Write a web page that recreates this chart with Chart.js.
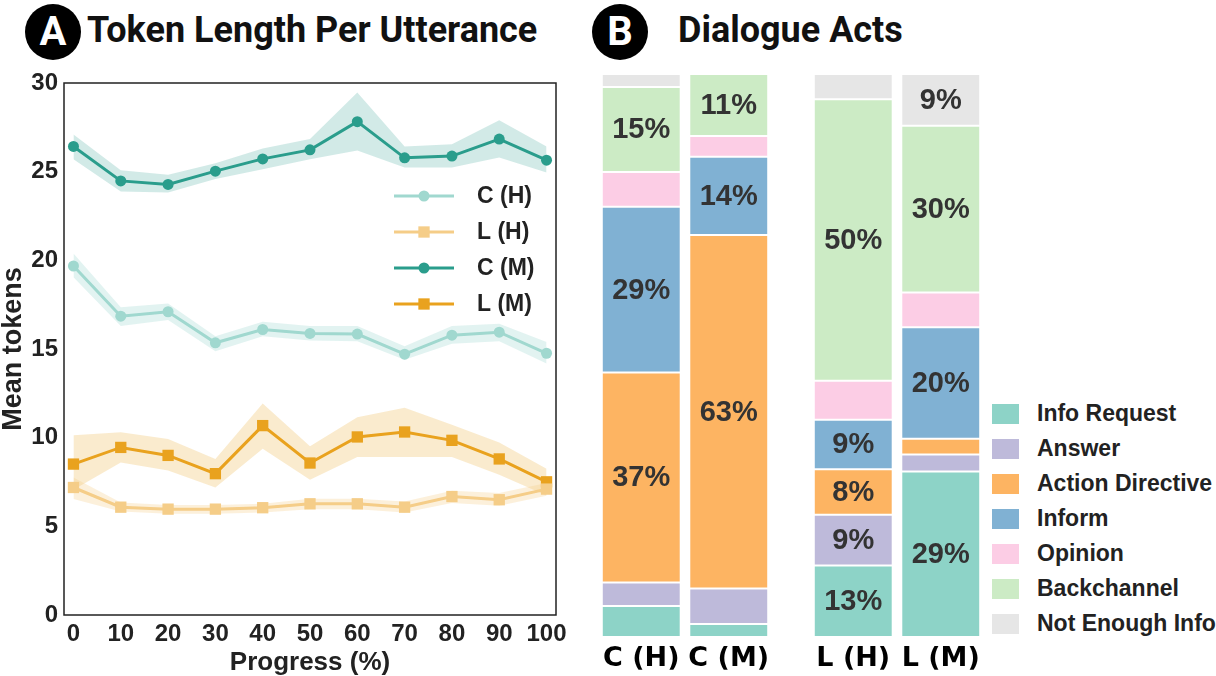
<!DOCTYPE html>
<html>
<head>
<meta charset="utf-8">
<script src="https://cdn.jsdelivr.net/npm/chart.js@4.4.1/dist/chart.umd.min.js"></script>
<style>
  html, body { margin: 0; padding: 0; background: #fff; }
  #page { position: relative; width: 1216px; height: 676px; overflow: hidden; }
  .badge {
    position: absolute; width: 56px; height: 56px; border-radius: 50%;
    background: #000; color: #fff; font: 700 40px/56px Roboto, sans-serif; text-align: center;
  }
  .title { position: absolute; font: 700 36px/36px Roboto, sans-serif; color: #111; white-space: nowrap; }
  canvas { position: absolute; top: 0; }
  #legendB { position: absolute; left: 992px; top: 396px; }
  #legendB .row { display: flex; align-items: center; height: 35px; }
  #legendB .sw { width: 27px; height: 20px; margin-right: 18px; }
  #legendB .lbl { font: 700 23px 'Liberation Sans', Arial, sans-serif; color: #222; white-space: nowrap; }
</style>
</head>
<body>
<div id="page">
  <div class="badge" style="left:25px; top:4px;">A</div>
  <div class="title" style="left:87px; top:12px;">Token Length Per Utterance</div>
  <div class="badge" style="left:592px; top:4px;">B</div>
  <div class="title" style="left:678px; top:12px;">Dialogue Acts</div>

  <canvas id="tokens" width="590" height="676" style="left:0;"></canvas>
  <canvas id="actsC" width="190" height="676" style="left:590px;"></canvas>
  <canvas id="actsL" width="190" height="676" style="left:802px;"></canvas>
  <div id="legendB"></div>
</div>

<script>
// ---- Panel A data: mean tokens per utterance with band (low/high) ----
const progress = [0, 10, 20, 30, 40, 50, 60, 70, 80, 90, 100];
const xTicks = [0, 10, 20, 30, 40, 50, 60, 70, 80, 90, 100];
const yTicks = [0, 5, 10, 15, 20, 25, 30];

const cHMean = [19.68, 16.85, 17.10, 15.35, 16.10, 15.88, 15.84, 14.71, 15.78, 15.95, 14.76];
const cHLow  = [19.04, 16.29, 16.63, 14.88, 15.72, 15.48, 15.44, 14.40, 15.29, 15.44, 14.18];
const cHHigh = [20.38, 17.36, 17.57, 15.72, 16.54, 16.29, 16.29, 15.16, 16.29, 16.42, 15.40];

const lHMean = [7.19, 6.08, 5.97, 5.97, 6.05, 6.27, 6.27, 6.08, 6.68, 6.50, 7.10];
const lHLow  = [6.54, 5.84, 5.71, 5.71, 5.78, 5.97, 5.97, 5.78, 6.31, 6.16, 6.72];
const lHHigh = [7.76, 6.35, 6.21, 6.21, 6.27, 6.55, 6.55, 6.40, 7.00, 6.88, 7.44];

const cMMean = [26.42, 24.48, 24.28, 25.03, 25.72, 26.23, 27.82, 25.78, 25.88, 26.84, 25.65];
const cMLow  = [25.70, 23.88, 23.82, 24.58, 25.14, 25.70, 26.20, 25.24, 25.24, 25.80, 24.95];
const cMHigh = [27.10, 25.08, 24.82, 25.48, 26.31, 26.84, 29.47, 26.42, 26.55, 27.90, 26.42];

const lMMean = [8.51, 9.45, 9.00, 7.97, 10.68, 8.57, 10.04, 10.32, 9.85, 8.80, 7.51];
const lMLow  = [7.06, 8.60, 8.15, 7.19, 9.38, 7.63, 8.91, 8.91, 8.91, 7.91, 6.74];
const lMHigh = [10.13, 10.30, 9.92, 8.80, 11.92, 9.51, 11.15, 11.68, 10.73, 9.73, 8.25];

// ---- Panel B data: share of dialogue acts (%) ----
const acts = ['Info Request', 'Answer', 'Action Directive', 'Inform', 'Opinion', 'Backchannel', 'Not Enough Info'];
const actColors = ['#8dd3c7', '#bebada', '#fdb462', '#80b1d3', '#fccde5', '#ccebc5', '#e6e6e6'];
const groupsC = ['C (H)', 'C (M)'];
const groupsL = ['L (H)', 'L (M)'];
const shareCH = [5.5, 4.2, 37.3, 29.4, 6.2, 15.1, 2.3];
const shareCM = [2.3, 6.3, 62.8, 13.9, 3.7, 11.0, 0];
const shareLH = [12.7, 9.0, 8.1, 8.8, 6.9, 50.0, 4.5];
const shareLM = [29.4, 3.0, 2.8, 19.8, 6.2, 29.6, 9.2];

const armFont = "'Liberation Sans', Arial, sans-serif";

const series = [
  { label: 'C (H)', mean: cHMean, low: cHLow, high: cHHigh, color: '#a0d8cf', band: 'rgba(160,216,207,0.30)', style: 'circle', r: 5.5 },
  { label: 'L (H)', mean: lHMean, low: lHLow, high: lHHigh, color: '#f5cd88', band: 'rgba(245,205,136,0.30)', style: 'rect', r: 8 },
  { label: 'C (M)', mean: cMMean, low: cMLow, high: cMHigh, color: '#2a9d8c', band: 'rgba(42,157,140,0.21)', style: 'circle', r: 5.5 },
  { label: 'L (M)', mean: lMMean, low: lMLow, high: lMHigh, color: '#e9a21e', band: 'rgba(233,162,30,0.22)', style: 'rect', r: 8 }
];

const pts = arr => progress.map((x, i) => ({ x: x, y: arr[i] }));

const lineSets = series.map(s => ({
  label: s.label,
  data: pts(s.mean),
  borderColor: s.color,
  backgroundColor: s.color,
  borderWidth: 3,
  pointStyle: s.style,
  pointRadius: s.r,
  pointBorderWidth: 0,
  fill: false,
  tension: 0
}));
const bandSets = [];
series.forEach(s => {
  bandSets.push({ data: pts(s.high), borderWidth: 0, pointRadius: 0, fill: '+1', backgroundColor: s.band });
  bandSets.push({ data: pts(s.low), borderWidth: 0, pointRadius: 0, fill: false });
});

function drawMarker(ctx, style, r, x, y) {
  ctx.beginPath();
  if (style === 'circle') {
    ctx.arc(x, y, r, 0, Math.PI * 2);
  } else {
    const h = r * Math.SQRT1_2;
    ctx.rect(x - h, y - h, 2 * h, 2 * h);
  }
  ctx.fill();
}

const frame = {
  id: 'frame',
  afterDraw(chart) {
    const a = chart.chartArea, ctx = chart.ctx;
    ctx.save();
    ctx.strokeStyle = '#222';
    ctx.lineWidth = 1.5;
    ctx.strokeRect(a.left, a.top, a.right - a.left, a.bottom - a.top);
    ctx.restore();
  }
};

// legend drawn inside the plot, line + marker + label
const lineLegend = {
  id: 'lineLegend',
  afterDatasetsDraw(chart) {
    const a = chart.chartArea, ctx = chart.ctx;
    ctx.save();
    series.forEach((s, i) => {
      const y = a.top + 113 + i * 36;
      ctx.strokeStyle = s.color;
      ctx.fillStyle = s.color;
      ctx.lineWidth = 3;
      ctx.beginPath();
      ctx.moveTo(a.right - 162, y);
      ctx.lineTo(a.right - 102, y);
      ctx.stroke();
      drawMarker(ctx, s.style, s.r, a.right - 132, y);
      ctx.fillStyle = '#222';
      ctx.font = '700 23px ' + armFont;
      ctx.textAlign = 'left';
      ctx.textBaseline = 'middle';
      ctx.fillText(s.label, a.right - 79, y + 1);
    });
    ctx.restore();
  }
};

new Chart(document.getElementById('tokens'), {
  type: 'line',
  data: { datasets: lineSets.concat(bandSets) },
  options: {
    responsive: false,
    animation: false,
    layout: { padding: { top: 83, right: 34, left: 0, bottom: 0 } },
    plugins: { legend: { display: false }, tooltip: { enabled: false } },
    scales: {
      x: {
        type: 'linear',
        min: -2,
        max: 102,
        afterBuildTicks: s => { s.ticks = xTicks.map(v => ({ value: v })); },
        afterFit: s => { s.height = 61; },
        grid: { display: false, drawTicks: false },
        border: { display: false },
        ticks: { font: { family: armFont, size: 24, weight: 'bold' }, color: '#222', padding: 5, maxRotation: 0, autoSkip: false },
        title: { display: true, text: 'Progress (%)', color: '#222', font: { family: armFont, size: 26, weight: 'bold', lineHeight: 1 }, padding: { top: 0, bottom: 0 } }
      },
      y: {
        min: 0,
        max: 30,
        afterBuildTicks: s => { s.ticks = yTicks.map(v => ({ value: v })); },
        afterFit: s => { s.width = 64; },
        grid: { display: false, drawTicks: false },
        border: { display: false },
        ticks: { font: { family: armFont, size: 24, weight: 'bold' }, color: '#222', padding: 6, autoSkip: false },
        title: { display: true, text: 'Mean tokens', color: '#222', font: { family: armFont, size: 27, weight: 'bold', lineHeight: 1 }, padding: 0 }
      }
    }
  },
  plugins: [frame, lineLegend]
});

// ---- Panel B: stacked bars ----
const barLabels = {
  id: 'barLabels',
  afterDatasetsDraw(chart) {
    const ctx = chart.ctx;
    ctx.save();
    ctx.fillStyle = '#333';
    ctx.font = '700 29px ' + armFont;
    ctx.textAlign = 'center';
    ctx.textBaseline = 'middle';
    chart.data.datasets.forEach((ds, di) => {
      chart.getDatasetMeta(di).data.forEach((bar, i) => {
        const v = ds.data[i];
        if (v >= 8) ctx.fillText(Math.round(v) + '%', bar.x, (bar.y + bar.base) / 2 + 1);
      });
    });
    ctx.restore();
  }
};

function actsChart(id, groups, first, second) {
  return new Chart(document.getElementById(id), {
    type: 'bar',
    data: {
      labels: groups,
      datasets: acts.map((name, k) => ({
        label: name,
        data: [first[k], second[k]],
        backgroundColor: actColors[k],
        borderColor: 'rgba(255,255,255,0.85)',
        borderWidth: 1,
        borderSkipped: false,
        barPercentage: 0.902,
        categoryPercentage: 1
      }))
    },
    options: {
      responsive: false,
      animation: false,
      layout: { padding: { top: 74, left: 7.5, right: 7.5, bottom: 0 } },
      plugins: { legend: { display: false }, tooltip: { enabled: false } },
      scales: {
        x: {
          stacked: true,
          afterFit: s => { s.height = 39; },
          grid: { display: false, drawTicks: false },
          border: { display: false },
          ticks: { font: { family: "'DejaVu Sans', sans-serif", size: 27, weight: 'bold' }, color: '#000', padding: 6, maxRotation: 0 }
        },
        y: { stacked: true, min: 0, max: 100, display: false }
      }
    },
    plugins: [barLabels]
  });
}

actsChart('actsC', groupsC, shareCH, shareCM);
actsChart('actsL', groupsL, shareLH, shareLM);

// legend for panel B
const legendBox = document.getElementById('legendB');
acts.forEach((name, k) => {
  const row = document.createElement('div');
  row.className = 'row';
  row.innerHTML = '<div class="sw" style="background:' + actColors[k] + '"></div><div class="lbl">' + name + '</div>';
  legendBox.appendChild(row);
});
</script>
</body>
</html>
